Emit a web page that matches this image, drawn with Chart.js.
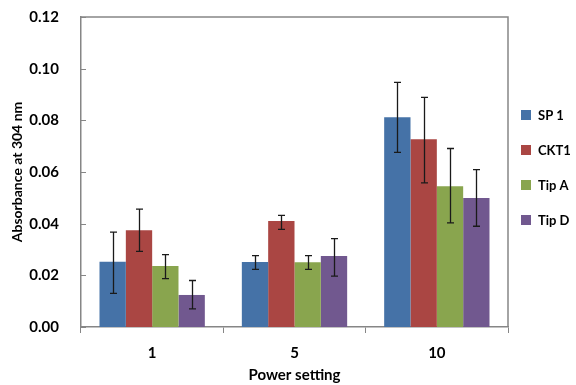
<!DOCTYPE html>
<html>
<head>
<meta charset="utf-8">
<script src="https://cdn.jsdelivr.net/npm/chart.js@4"></script>
<style>
  html, body { margin: 0; padding: 0; background: #fff; }
  #wrap { width: 576px; height: 385px; }
</style>
</head>
<body>
<div id="wrap"><canvas id="chart" width="576" height="385"></canvas></div>
<script>
// data
const categories = ['1', '5', '10'];
const seriesNames = ['SP 1', 'CKT1', 'Tip A', 'Tip D'];
const sp1 = [0.0253, 0.0252, 0.0812];
const ckt1 = [0.0375, 0.0410, 0.0727];
const tipA = [0.0236, 0.0251, 0.0545];
const tipD = [0.0124, 0.0275, 0.0499];
// error bar ends (high / low)
const sp1Err = [[0.0367, 0.0130], [0.0276, 0.0223], [0.0947, 0.0676]];
const ckt1Err = [[0.0456, 0.0293], [0.0432, 0.0378], [0.0889, 0.0558]];
const tipAErr = [[0.0280, 0.0187], [0.0276, 0.0223], [0.0691, 0.0403]];
const tipDErr = [[0.0180, 0.0070], [0.0342, 0.0197], [0.0609, 0.0390]];
const yTicks = [0, 0.02, 0.04, 0.06, 0.08, 0.10, 0.12];

const colors = ['#4572A7', '#AA4643', '#89A54E', '#71588F'];
const values = [sp1, ckt1, tipA, tipD];
const errors = [sp1Err, ckt1Err, tipAErr, tipDErr];

const FONT = 'Lato, "Open Sans", sans-serif';
const axisGray = '#868686';

// draws error bars, inner y ticks, the plot frame and the legend
const extras = {
  id: 'extras',
  afterDatasetsDraw(chart) {
    const ctx = chart.ctx;
    const y = chart.scales.y;
    const area = chart.chartArea;
    ctx.save();
    // error bars
    ctx.strokeStyle = '#1a1a1a';
    ctx.lineWidth = 1.3;
    chart.data.datasets.forEach((ds, i) => {
      const meta = chart.getDatasetMeta(i);
      meta.data.forEach((bar, j) => {
        const e = errors[i][j];
        const x = Math.round(bar.x) + 0.5;
        const yh = y.getPixelForValue(e[0]);
        const yl = y.getPixelForValue(e[1]);
        ctx.beginPath();
        ctx.moveTo(x, yh); ctx.lineTo(x, yl);
        ctx.moveTo(x - 3.5, yh); ctx.lineTo(x + 3.5, yh);
        ctx.moveTo(x - 3.5, yl); ctx.lineTo(x + 3.5, yl);
        ctx.stroke();
      });
    });
    // frame top/right
    ctx.strokeStyle = axisGray;
    ctx.lineWidth = 1.5;
    ctx.beginPath();
    ctx.moveTo(area.left, area.top);
    ctx.lineTo(area.right, area.top);
    ctx.lineTo(area.right, area.bottom);
    ctx.stroke();
    // inner ticks on y axis
    ctx.lineWidth = 1;
    yTicks.forEach(v => {
      const py = Math.round(y.getPixelForValue(v)) + 0.5;
      ctx.beginPath();
      ctx.moveTo(area.left, py);
      ctx.lineTo(area.left + 5, py);
      ctx.stroke();
    });
    // legend
    ctx.font = 'bold 13px ' + FONT;
    ctx.textBaseline = 'middle';
    ctx.fillStyle = '#000';
    chart.data.datasets.forEach((ds, i) => {
      const cy = area.top + 98 + i * 35;
      const lx = area.right + 13;
      ctx.fillStyle = ds.backgroundColor;
      ctx.fillRect(lx, cy - 5, 10, 10);
      ctx.fillStyle = '#000';
      ctx.fillText(ds.label, lx + 17, cy + 1);
    });
    ctx.restore();
  }
};

new Chart(document.getElementById('chart'), {
  type: 'bar',
  data: {
    labels: categories,
    datasets: seriesNames.map((name, i) => ({
      label: name,
      data: values[i],
      backgroundColor: colors[i],
      borderWidth: 0,
      categoryPercentage: 0.74,
      barPercentage: 1.0
    }))
  },
  options: {
    responsive: false,
    animation: false,
    layout: { padding: { top: 17, right: 68, left: 0, bottom: 0 } },
    plugins: {
      legend: { display: false },
      tooltip: { enabled: false }
    },
    scales: {
      x: {
        afterFit(scale) { scale.height = 58; },
        grid: {
          offset: true,
          drawOnChartArea: false,
          tickLength: 6,
          color: axisGray
        },
        border: { color: axisGray, width: 1.5 },
        ticks: {
          color: '#000',
          padding: 11,
          font: { family: FONT, size: 15, weight: 'bold' }
        },
        title: {
          display: true,
          text: 'Power setting',
          color: '#000',
          padding: { top: 0, bottom: 1 },
          font: { family: FONT, size: 15, weight: 'bold' }
        }
      },
      y: {
        min: 0,
        max: 0.12,
        afterFit(scale) {
          scale.width = 81;
          scale.paddingTop = 0;
          scale.paddingBottom = 0;
        },
        afterBuildTicks(scale) {
          scale.ticks = yTicks.map(v => ({ value: v }));
        },
        grid: { display: false },
        border: { color: axisGray, width: 1.5 },
        ticks: {
          color: '#000',
          padding: 14,
          font: { family: FONT, size: 15, weight: 'bold' },
          callback: v => v.toFixed(2)
        },
        title: {
          display: true,
          text: 'Absorbance at 304 nm',
          color: '#000',
          padding: { top: 9, bottom: 0 },
          font: { family: FONT, size: 14, weight: 'bold' }
        }
      }
    }
  },
  plugins: [extras]
});
</script>
</body>
</html>
